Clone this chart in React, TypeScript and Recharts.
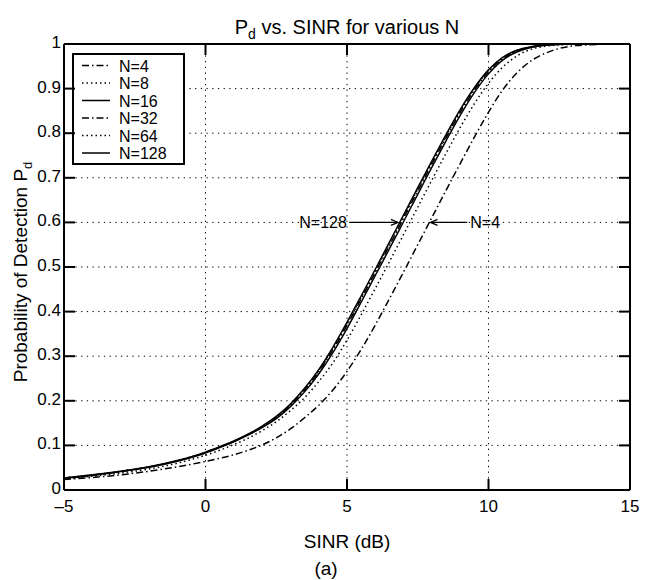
import React from 'react';
import {
  LineChart,
  Line,
  XAxis,
  YAxis,
  CartesianGrid,
  ReferenceLine,
  ReferenceDot,
  Customized,
} from 'recharts';

// ---------- data ----------
const sinrDb = [-5, -4, -3, -2, -1, 0, 0.5, 1, 1.5, 2, 2.5, 3, 3.5, 4, 4.5, 5, 5.5, 6, 6.5, 7, 7.5, 8, 8.5, 9, 9.5, 10, 10.5, 11, 11.5, 12, 12.5, 13, 13.5, 14, 15];

const pdN4 = [0.0235, 0.028, 0.034, 0.042, 0.052, 0.064, 0.071, 0.079, 0.089, 0.101, 0.117, 0.137, 0.162, 0.19, 0.224, 0.266, 0.315, 0.37, 0.429, 0.489, 0.55, 0.611, 0.672, 0.732, 0.791, 0.847, 0.897, 0.935, 0.962, 0.979, 0.99, 0.996, 0.998, 0.9995, 1];
const pdN8 = [0.025, 0.031, 0.038, 0.047, 0.06, 0.078, 0.089, 0.102, 0.116, 0.133, 0.153, 0.178, 0.207, 0.243, 0.285, 0.336, 0.393, 0.452, 0.512, 0.573, 0.634, 0.695, 0.755, 0.813, 0.866, 0.912, 0.948, 0.973, 0.988, 0.995, 0.998, 0.9995, 1, 1, 1];
const pdN16 = [0.0265, 0.0325, 0.0412, 0.051, 0.0645, 0.083, 0.095, 0.108, 0.123, 0.14, 0.16, 0.187, 0.22, 0.26, 0.308, 0.362, 0.421, 0.481, 0.541, 0.602, 0.663, 0.724, 0.783, 0.84, 0.891, 0.933, 0.964, 0.982, 0.992, 0.997, 0.999, 1, 1, 1, 1];
const pdN32 = [0.027, 0.033, 0.0416, 0.0515, 0.0652, 0.084, 0.096, 0.109, 0.124, 0.1415, 0.1625, 0.19, 0.224, 0.265, 0.314, 0.369, 0.428, 0.488, 0.5485, 0.6095, 0.6705, 0.731, 0.79, 0.8465, 0.8965, 0.9375, 0.967, 0.984, 0.993, 0.9975, 0.9993, 1, 1, 1, 1];
const pdN64 = [0.027, 0.0335, 0.0418, 0.0518, 0.0657, 0.0845, 0.0965, 0.1095, 0.1245, 0.1425, 0.164, 0.1915, 0.226, 0.2675, 0.317, 0.3725, 0.4315, 0.4915, 0.552, 0.6135, 0.6745, 0.735, 0.7935, 0.8505, 0.9, 0.9405, 0.969, 0.985, 0.9935, 0.998, 0.9995, 1, 1, 1, 1];
const pdN128 = [0.027, 0.034, 0.042, 0.052, 0.066, 0.085, 0.097, 0.11, 0.125, 0.143, 0.165, 0.193, 0.228, 0.27, 0.32, 0.376, 0.435, 0.495, 0.556, 0.617, 0.678, 0.738, 0.797, 0.853, 0.902, 0.942, 0.97, 0.986, 0.994, 0.998, 0.9995, 1, 1, 1, 1];

const seriesNames = ['N=4', 'N=8', 'N=16', 'N=32', 'N=64', 'N=128'];
const seriesKeys = ['n4', 'n8', 'n16', 'n32', 'n64', 'n128'];
const seriesValues = [pdN4, pdN8, pdN16, pdN32, pdN64, pdN128];

const xTicks = [-5, 0, 5, 10, 15];
const yTicks = [0, 0.1, 0.2, 0.3, 0.4, 0.5, 0.6, 0.7, 0.8, 0.9, 1];

const annotationLevel = 0.6;
const annN128 = { text: 'N=128', tail: 5.1, head: 6.8 };
const annN4 = { text: 'N=4', tail: 9.25, head: 7.95 };

const titleMain = ' vs. SINR for various N';
const xLabel = 'SINR (dB)';
const yLabelMain = 'Probability of Detection P';
const caption = '(a)';

// ---------- styles ----------
const FONT = '"Liberation Sans", Arial, Helvetica, sans-serif';
const DASHDOT = '7 3 1.5 3';
const DOTTED = '1.5 3';
const seriesDash = [DASHDOT, DOTTED, undefined, DASHDOT, DOTTED, undefined];
const TICK_FS = 17;
const LABEL_FS = 19;
const TITLE_FS = 20;

const data = sinrDb.map((x, i) => {
  const row: Record<string, number> = { x };
  seriesKeys.forEach((k, j) => {
    row[k] = seriesValues[j][i];
  });
  return row;
});

const TICK_LEN = 11;

const fmt = (v: number) => (v < 0 ? '\u2013' + Math.abs(v) : String(v));

const BottomTick = (props: any) => {
  const { x, y, payload } = props;
  return (
    <g>
      <line x1={x} y1={y} x2={x} y2={y - TICK_LEN} stroke="#000" strokeWidth={2} />
      <text x={x} y={y + 22} textAnchor="middle" fontFamily={FONT} fontSize={TICK_FS} fill="#000">
        {fmt(payload.value)}
      </text>
    </g>
  );
};
const TopTick = (props: any) => {
  const { x, y } = props;
  return <line x1={x} y1={y} x2={x} y2={y + TICK_LEN} stroke="#000" strokeWidth={2} />;
};
const LeftTick = (props: any) => {
  const { x, y, payload } = props;
  return (
    <g>
      <line x1={x} y1={y} x2={x + TICK_LEN} y2={y} stroke="#000" strokeWidth={2} />
      <text x={x - 3} y={y + 4} textAnchor="end" fontFamily={FONT} fontSize={TICK_FS} fill="#000">
        {String(payload.value)}
      </text>
    </g>
  );
};
const RightTick = (props: any) => {
  const { x, y } = props;
  return <line x1={x} y1={y} x2={x - TICK_LEN} y2={y} stroke="#000" strokeWidth={2} />;
};

const ArrowHead = (dir: number) => (props: any) => {
  const { cx, cy } = props;
  const L = 7;
  const W = 3;
  return (
    <path
      d={`M${cx - dir * L},${cy - W} L${cx},${cy} L${cx - dir * L},${cy + W}`}
      fill="none"
      stroke="#000"
      strokeWidth={1.2}
    />
  );
};

const AnnText = (text: string, anchor: 'start' | 'end') => (props: any) => {
  const { cx, cy } = props;
  return (
    <text
      x={anchor === 'end' ? cx - 3 : cx + 3}
      y={cy + 6}
      textAnchor={anchor}
      fontFamily={FONT}
      fontSize={16}
      fill="#000"
    >
      {text}
    </text>
  );
};

const LEG = { x: 72, y: 53, w: 113, h: 112, rowH: 17.5, first: 12.5 };

const Texts = () => (
  <g fontFamily={FONT} fill="#000">
    <text x={347} y={34} textAnchor="middle" fontSize={TITLE_FS}>
      P<tspan fontSize={14} dy={5}>d</tspan>
      <tspan dy={-5}>{titleMain}</tspan>
    </text>
    <text x={347} y={548} textAnchor="middle" fontSize={LABEL_FS}>
      {xLabel}
    </text>
    <text x={326} y={575} textAnchor="middle" fontSize={LABEL_FS}>
      {caption}
    </text>
    <text x={0} y={0} textAnchor="middle" fontSize={LABEL_FS} transform="translate(27,272) rotate(-90)">
      {yLabelMain}
      <tspan fontSize={13} dy={5}>d</tspan>
    </text>
    <g transform={`translate(${LEG.x},${LEG.y})`}>
      <rect x={1} y={1} width={LEG.w - 2} height={LEG.h - 2} fill="#fff" stroke="#000" strokeWidth={2} />
      {seriesNames.map((name, i) => {
        const cy = LEG.first + i * LEG.rowH;
        return (
          <g key={name}>
            <line x1={10} y1={cy} x2={38} y2={cy} stroke="#000" strokeWidth={1.5} strokeDasharray={seriesDash[i]} />
            <text x={47} y={cy + 6} fontSize={16}>
              {name}
            </text>
          </g>
        );
      })}
    </g>
  </g>
);

export default function App() {
  return (
    <div style={{ position: 'absolute', left: 0, top: 0, width: 650, height: 580, background: '#fff' }}>
      <LineChart width={650} height={580} data={data} margin={{ top: 34, right: 10, bottom: 60, left: 24 }}>
        <CartesianGrid xAxisId="b" yAxisId="l" stroke="#000" strokeDasharray="1.3 4.4" strokeWidth={1} />
        <XAxis
          xAxisId="b"
          dataKey="x"
          type="number"
          domain={[-5, 15]}
          ticks={xTicks}
          interval={0}
          height={30}
          tickSize={0}
          tickMargin={0}
          tickLine={false}
          axisLine={{ stroke: '#000', strokeWidth: 2 }}
          tick={<BottomTick />}
          allowDataOverflow
        />
        <XAxis
          xAxisId="t"
          orientation="top"
          dataKey="x"
          type="number"
          domain={[-5, 15]}
          ticks={xTicks}
          interval={0}
          height={10}
          tickSize={0}
          tickMargin={0}
          tickLine={false}
          axisLine={{ stroke: '#000', strokeWidth: 2 }}
          tick={<TopTick />}
          allowDataOverflow
        />
        <YAxis
          yAxisId="l"
          type="number"
          domain={[0, 1]}
          ticks={yTicks}
          interval={0}
          width={40}
          tickSize={0}
          tickMargin={0}
          tickLine={false}
          axisLine={{ stroke: '#000', strokeWidth: 2 }}
          tick={<LeftTick />}
          allowDataOverflow
        />
        <YAxis
          yAxisId="r"
          orientation="right"
          type="number"
          domain={[0, 1]}
          ticks={yTicks}
          interval={0}
          width={10}
          tickSize={0}
          tickMargin={0}
          tickLine={false}
          axisLine={{ stroke: '#000', strokeWidth: 2 }}
          tick={<RightTick />}
          allowDataOverflow
        />
        {seriesKeys.map((k, i) => (
          <Line
            key={k}
            xAxisId="b"
            yAxisId="l"
            type="monotone"
            dataKey={k}
            name={seriesNames[i]}
            stroke="#000"
            strokeWidth={1.5}
            strokeDasharray={seriesDash[i]}
            dot={false}
            activeDot={false}
            isAnimationActive={false}
          />
        ))}
        <ReferenceLine
          xAxisId="b"
          yAxisId="l"
          segment={[
            { x: annN128.tail, y: annotationLevel },
            { x: annN128.head, y: annotationLevel },
          ]}
          stroke="#000"
          strokeWidth={1.2}
        />
        <ReferenceLine
          xAxisId="b"
          yAxisId="l"
          segment={[
            { x: annN4.tail, y: annotationLevel },
            { x: annN4.head, y: annotationLevel },
          ]}
          stroke="#000"
          strokeWidth={1.2}
        />
        <ReferenceDot xAxisId="b" yAxisId="l" x={annN128.head} y={annotationLevel} shape={ArrowHead(1)} />
        <ReferenceDot xAxisId="b" yAxisId="l" x={annN4.head} y={annotationLevel} shape={ArrowHead(-1)} />
        <ReferenceDot xAxisId="b" yAxisId="l" x={annN128.tail} y={annotationLevel} shape={AnnText(annN128.text, 'end')} />
        <ReferenceDot xAxisId="b" yAxisId="l" x={annN4.tail} y={annotationLevel} shape={AnnText(annN4.text, 'start')} />
        <Customized component={<Texts />} />
      </LineChart>
    </div>
  );
}
